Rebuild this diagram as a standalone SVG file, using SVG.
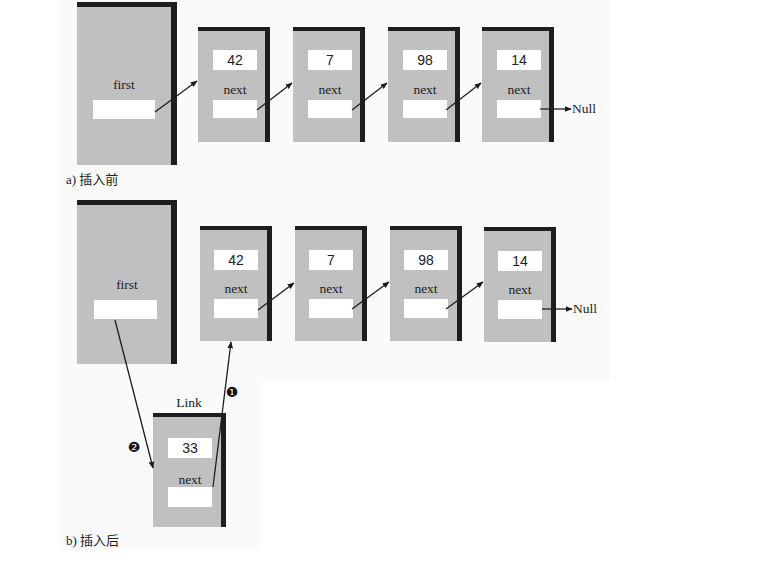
<svg xmlns="http://www.w3.org/2000/svg" width="769" height="565" viewBox="0 0 769 565">
<defs>
<marker id="ah" viewBox="0 0 10 10" refX="9" refY="5" markerWidth="7" markerHeight="7" markerUnits="userSpaceOnUse" orient="auto">
<path d="M0,1 L10,5 L0,9 Z" fill="#1a1a1a"/>
</marker>
</defs>
<style>
.body{fill:#c0c0c0}
.edge{fill:#1e1e1e}
.field{fill:#ffffff}
.lbl{font-family:"Liberation Serif",serif;font-size:13.5px;fill:#222;text-anchor:middle}
.num{font-family:"Liberation Sans",Arial,sans-serif;font-size:14px;fill:#222;text-anchor:middle}
.cap{font-family:"Liberation Serif","Noto Sans CJK SC",serif;font-size:13px;fill:#222}
.con{stroke:#1e1e1e;stroke-width:1.3;fill:none}
.mk{font-family:"DejaVu Sans",sans-serif;font-size:14px;fill:#111;text-anchor:middle}
</style>
<rect width="769" height="565" fill="#ffffff"/>
<rect x="60" y="0" width="550" height="382" fill="#fafafa"/>
<rect x="60" y="382" width="200" height="168" fill="#fafafa"/>

<!-- top row -->
<g id="first-a">
<rect class="body" x="77" y="2" width="95" height="163"/>
<rect class="edge" x="77" y="2" width="100" height="5"/>
<rect class="edge" x="171" y="2" width="6" height="163"/>
<text class="lbl" x="124" y="89">first</text>
<rect class="field" x="93" y="100" width="62" height="19"/>
</g>
<g id="a42" transform="translate(198,27)">
<rect class="body" x="0" y="0" width="67" height="115"/>
<rect class="edge" x="0" y="0" width="72" height="4"/>
<rect class="edge" x="67" y="0" width="5" height="115"/>
<rect class="field" x="15" y="23" width="44" height="20"/>
<text class="num" x="37" y="38">42</text>
<text class="lbl" x="37" y="67">next</text>
<rect class="field" x="15" y="73" width="44" height="18"/>
</g>
<g id="a7" transform="translate(293,27)">
<rect class="body" x="0" y="0" width="67" height="115"/>
<rect class="edge" x="0" y="0" width="72" height="4"/>
<rect class="edge" x="67" y="0" width="5" height="115"/>
<rect class="field" x="15" y="23" width="44" height="20"/>
<text class="num" x="37" y="38">7</text>
<text class="lbl" x="37" y="67">next</text>
<rect class="field" x="15" y="73" width="44" height="18"/>
</g>
<g id="a98" transform="translate(388,27)">
<rect class="body" x="0" y="0" width="67" height="115"/>
<rect class="edge" x="0" y="0" width="72" height="4"/>
<rect class="edge" x="67" y="0" width="5" height="115"/>
<rect class="field" x="15" y="23" width="44" height="20"/>
<text class="num" x="37" y="38">98</text>
<text class="lbl" x="37" y="67">next</text>
<rect class="field" x="15" y="73" width="44" height="18"/>
</g>
<g id="a14" transform="translate(482,27)">
<rect class="body" x="0" y="0" width="67" height="115"/>
<rect class="edge" x="0" y="0" width="72" height="4"/>
<rect class="edge" x="67" y="0" width="5" height="115"/>
<rect class="field" x="15" y="23" width="44" height="20"/>
<text class="num" x="37" y="38">14</text>
<text class="lbl" x="37" y="67">next</text>
<rect class="field" x="15" y="73" width="44" height="18"/>
</g>
<text id="null-a" class="lbl" x="572" y="113" style="text-anchor:start">Null</text>
<text id="cap-a" class="cap" x="66" y="184">a) 插入前</text>

<!-- bottom row -->
<g id="first-b">
<rect class="body" x="77" y="200" width="95" height="164"/>
<rect class="edge" x="77" y="200" width="100" height="5"/>
<rect class="edge" x="171" y="200" width="6" height="164"/>
<text class="lbl" x="127" y="289">first</text>
<rect class="field" x="94" y="300" width="63" height="19"/>
</g>
<g id="b42" transform="translate(200,226)">
<rect class="body" x="0" y="0" width="67" height="115"/>
<rect class="edge" x="0" y="0" width="72" height="4"/>
<rect class="edge" x="67" y="0" width="5" height="115"/>
<rect class="field" x="14" y="24" width="44" height="20"/>
<text class="num" x="36" y="39">42</text>
<text class="lbl" x="36" y="67">next</text>
<rect class="field" x="14" y="73" width="44" height="19"/>
</g>
<g id="b7" transform="translate(295,226)">
<rect class="body" x="0" y="0" width="67" height="115"/>
<rect class="edge" x="0" y="0" width="72" height="4"/>
<rect class="edge" x="67" y="0" width="5" height="115"/>
<rect class="field" x="14" y="24" width="44" height="20"/>
<text class="num" x="36" y="39">7</text>
<text class="lbl" x="36" y="67">next</text>
<rect class="field" x="14" y="73" width="44" height="19"/>
</g>
<g id="b98" transform="translate(390,226)">
<rect class="body" x="0" y="0" width="67" height="115"/>
<rect class="edge" x="0" y="0" width="72" height="4"/>
<rect class="edge" x="67" y="0" width="5" height="115"/>
<rect class="field" x="14" y="24" width="44" height="20"/>
<text class="num" x="36" y="39">98</text>
<text class="lbl" x="36" y="67">next</text>
<rect class="field" x="14" y="73" width="44" height="19"/>
</g>
<g id="b14" transform="translate(484,227)">
<rect class="body" x="0" y="0" width="67" height="115"/>
<rect class="edge" x="0" y="0" width="72" height="4"/>
<rect class="edge" x="67" y="0" width="5" height="115"/>
<rect class="field" x="14" y="24" width="44" height="20"/>
<text class="num" x="36" y="39">14</text>
<text class="lbl" x="36" y="67">next</text>
<rect class="field" x="14" y="73" width="44" height="19"/>
</g>
<text id="null-b" class="lbl" x="573" y="313" style="text-anchor:start">Null</text>

<g id="link33" transform="translate(153,413)">
<text class="lbl" x="36" y="-6">Link</text>
<rect class="body" x="0" y="0" width="68" height="114"/>
<rect class="edge" x="0" y="0" width="73" height="4"/>
<rect class="edge" x="68" y="0" width="5" height="114"/>
<rect class="field" x="15" y="25" width="44" height="20"/>
<text class="num" x="37" y="40">33</text>
<text class="lbl" x="37" y="71">next</text>
<rect class="field" x="15" y="74" width="44" height="20"/>
</g>
<text id="cap-b" class="cap" x="66" y="545">b) 插入后</text>

<g id="connectors">
<line class="con" x1="155" y1="112" x2="197" y2="81" marker-end="url(#ah)"/>
<line class="con" x1="257" y1="110" x2="292" y2="83" marker-end="url(#ah)"/>
<line class="con" x1="352" y1="110" x2="387" y2="83" marker-end="url(#ah)"/>
<line class="con" x1="446" y1="110" x2="481" y2="83" marker-end="url(#ah)"/>
<line class="con" x1="540" y1="109" x2="571" y2="109" marker-end="url(#ah)"/>
<line class="con" x1="258" y1="310" x2="294" y2="283" marker-end="url(#ah)"/>
<line class="con" x1="352" y1="309" x2="389" y2="282" marker-end="url(#ah)"/>
<line class="con" x1="446" y1="309" x2="483" y2="282" marker-end="url(#ah)"/>
<line class="con" x1="542" y1="309" x2="572" y2="309" marker-end="url(#ah)"/>
<line class="con" x1="115" y1="320" x2="153" y2="468" marker-end="url(#ah)"/>
<line class="con" x1="213" y1="487" x2="231" y2="342" marker-end="url(#ah)"/>
<text class="mk" x="232" y="397">❶</text>
<text class="mk" x="134" y="452">❷</text>
</g>
</svg>
